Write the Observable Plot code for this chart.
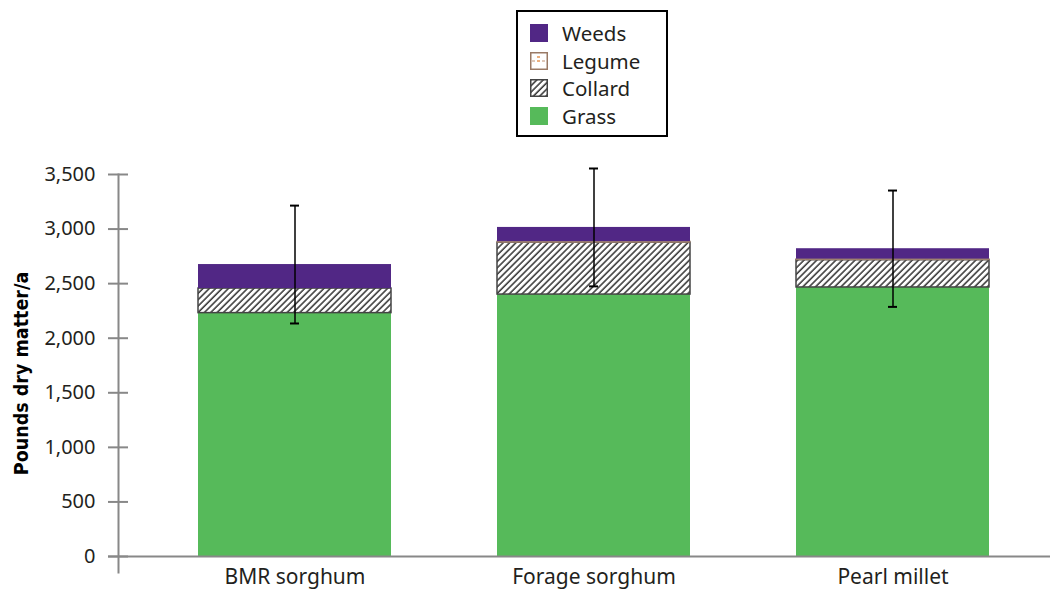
<!DOCTYPE html>
<html>
<head>
<meta charset="utf-8">
<script src="https://cdn.jsdelivr.net/npm/d3@7"></script>
<script src="https://cdn.jsdelivr.net/npm/@observablehq/plot@0.6"></script>
<style>
  html, body { margin: 0; padding: 0; background: #fff; }
  #wrap { position: relative; width: 1055px; height: 590px; font-family: "Noto Sans", "Open Sans", sans-serif; color: #231f20; }
  #legend { position: absolute; left: 516px; top: 10px; width: 148px; height: 123px; border: 2px solid #000; background: #fff; }
  .item { position: absolute; left: 12px; height: 20px; display: flex; align-items: center; font-size: 20.5px; }
  .item svg { margin-right: 14px; }
  g[aria-label="y-axis label"] text { font-weight: bold; font-family: "Liberation Sans Narrow", "DejaVu Sans Condensed", sans-serif; font-size: 19.5px; }
</style>
</head>
<body>
<div id="wrap"><div id="chart"></div><div id="legend"></div></div>
<script>
const crops = ["BMR sorghum", "Forage sorghum", "Pearl millet"];
const components = ["Grass", "Collard", "Legume", "Weeds"];
const grass = [2230, 2400, 2465];
const collard = [225, 475, 250];
const legume = [0, 10, 10];
const weeds = [220, 130, 95];
const errorSize = [540, 540, 533];
const yTicks = [0, 500, 1000, 1500, 2000, 2500, 3000, 3500];

const seriesValues = {Grass: grass, Collard: collard, Legume: legume, Weeds: weeds};
const fills = {Grass: "#56ba5a", Collard: "url(#hatch)", Legume: "url(#legpat)", Weeds: "#512785"};
const strokes = {Grass: "none", Collard: "#444", Legume: "#9a7a66", Weeds: "none"};

const rows = [];
for (const c of components) crops.forEach((crop, i) => rows.push({crop, component: c, value: seriesValues[c][i]}));
const totals = crops.map((crop, i) => ({crop, total: components.reduce((s, c) => s + seriesValues[c][i], 0), err: errorSize[i]}));

const plot = Plot.plot({
  width: 1055,
  height: 590,
  marginLeft: 118,
  marginRight: 5,
  marginTop: 174,
  marginBottom: 18,
  style: {fontFamily: "'Noto Sans', 'Open Sans', sans-serif", fontSize: "17px", color: "#231f20", background: "#fff"},
  x: {domain: crops, paddingInner: 0.3545, paddingOuter: 0.177, insetLeft: 27, insetRight: 8},
  y: {domain: [0, 3500], insetBottom: 16},
  color: {type: "identity"},
  marks: [
    Plot.barY(rows, Plot.stackY({
      x: "crop", y: "value", order: null,
      fill: d => fills[d.component],
      stroke: d => strokes[d.component],
      strokeWidth: d => d.component === "Collard" ? 1.5 : 1,
      strokeDasharray: d => d.component === "Legume" ? "3,2" : null
    })),
    Plot.frame({anchor: "left", stroke: "#888", strokeWidth: 2}),
    Plot.ruleY([0], {stroke: "#888", strokeWidth: 2, insetLeft: -10}),
    Plot.axisY({ticks: yTicks, tickSize: 20, dx: 10, tickPadding: 13, tickFormat: d3.format(","), stroke: "#888", strokeWidth: 2, fill: "#231f20", fontSize: 20, label: null}),
    Plot.axisY({ticks: [], label: "Pounds dry matter/a", labelAnchor: "center", labelArrow: "none", labelOffset: 104, fill: "#000"}),
    Plot.axisX({tickSize: 0, tickPadding: 2, dy: -5, fontSize: 21, fill: "#231f20", label: null}),
    Plot.ruleX(totals, {x: "crop", y1: d => d.total - d.err, y2: d => d.total + d.err, stroke: "#000", strokeWidth: 1.5}),
    Plot.tickY(totals, {x: "crop", y: d => d.total + d.err, stroke: "#000", strokeWidth: 2, insetLeft: 92, insetRight: 92}),
    Plot.tickY(totals, {x: "crop", y: d => d.total - d.err, stroke: "#000", strokeWidth: 2, insetLeft: 92, insetRight: 92})
  ]
});

const defs = `
<pattern id="hatch" patternUnits="userSpaceOnUse" width="4.5" height="4.5" patternTransform="rotate(45)">
  <rect width="4.5" height="4.5" fill="#fff"/>
  <line x1="1" y1="0" x2="1" y2="4.5" stroke="#222" stroke-width="1.4"/>
</pattern>
<pattern id="legpat" patternUnits="userSpaceOnUse" width="17" height="17">
  <rect width="17" height="17" fill="#fff"/>
  <line x1="7" y1="5" x2="10" y2="5" stroke="#e07b2a" stroke-width="1.2"/>
  <line x1="2" y1="9" x2="5" y2="9" stroke="#c9a48a" stroke-width="1.2"/>
  <line x1="7" y1="9" x2="10" y2="9" stroke="#e07b2a" stroke-width="1.2"/>
  <line x1="12" y1="9" x2="15" y2="9" stroke="#c9a48a" stroke-width="1.2"/>
</pattern>`;
const defsEl = document.createElementNS("http://www.w3.org/2000/svg", "defs");
defsEl.innerHTML = defs;
plot.insertBefore(defsEl, plot.firstChild);
document.getElementById("chart").appendChild(plot);

// legend
const legendItems = [
  {name: "Weeds", top: 11},
  {name: "Legume", top: 39},
  {name: "Collard", top: 66},
  {name: "Grass", top: 94}
];
const legend = document.getElementById("legend");
for (const it of legendItems) {
  const div = document.createElement("div");
  div.className = "item";
  div.style.top = it.top + "px";
  const f = fills[it.name];
  const s = strokes[it.name];
  div.innerHTML = `<svg width="18" height="18"><rect x="0.75" y="0.75" width="16.5" height="16.5" fill="${f}" stroke="${s === 'none' ? f : s}" stroke-width="1.5"/></svg><span>${it.name}</span>`;
  legend.appendChild(div);
}
</script>
</body>
</html>
